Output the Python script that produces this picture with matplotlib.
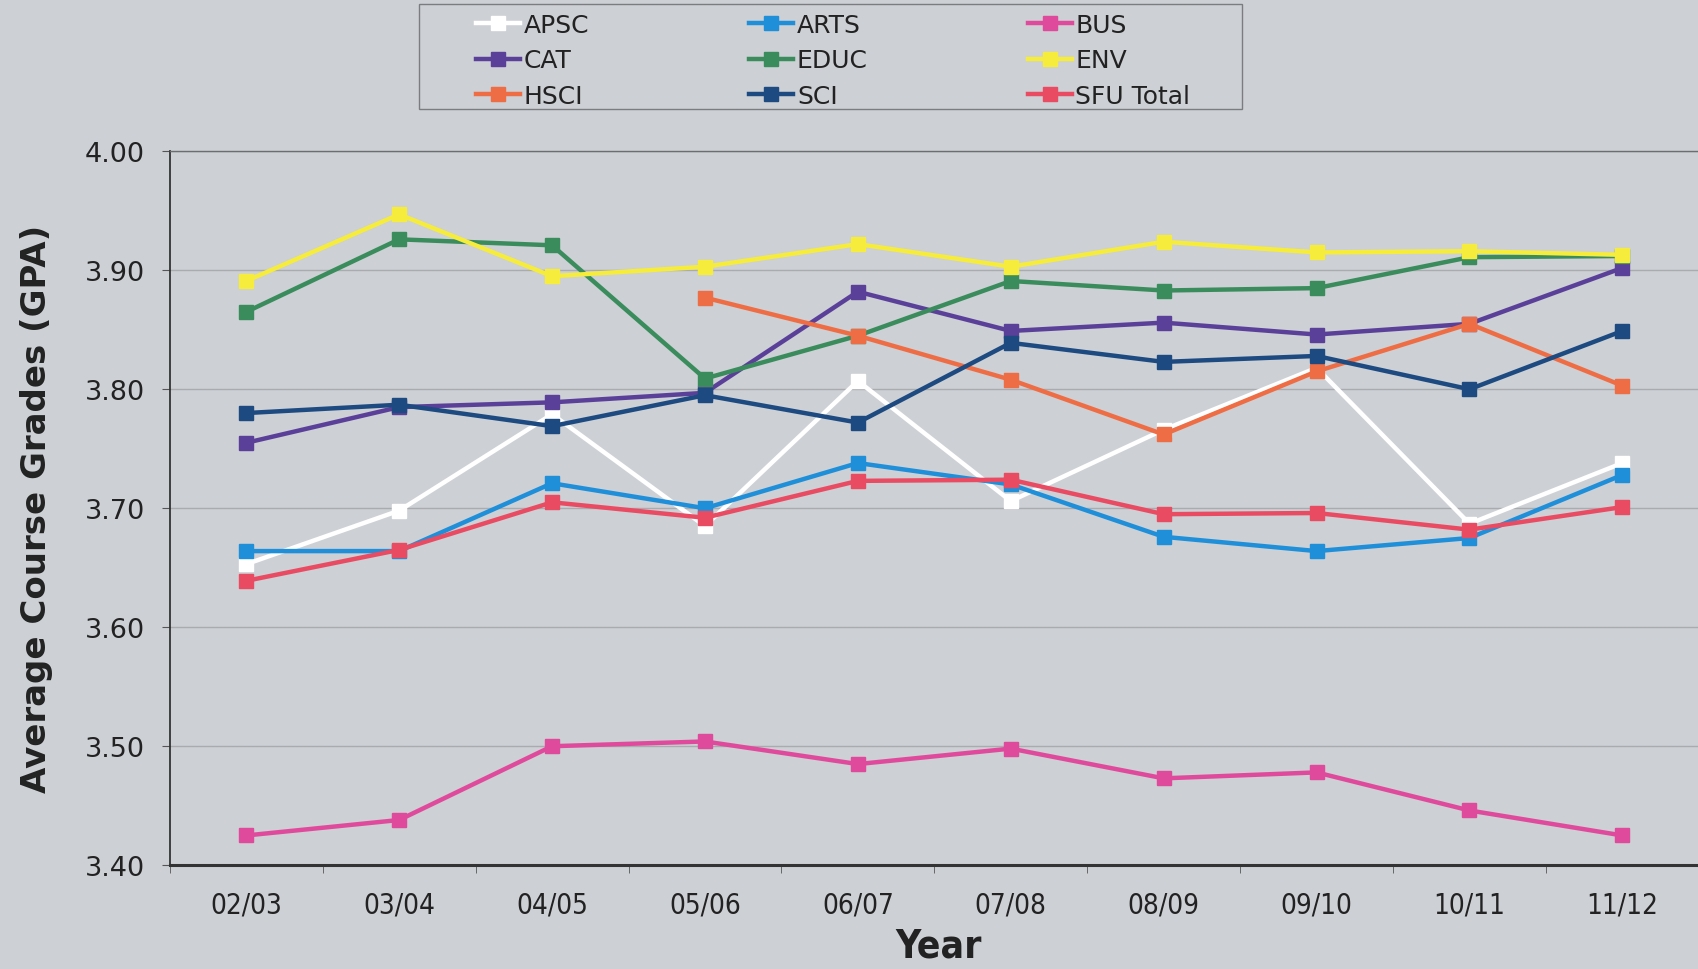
import matplotlib.pyplot as plt
from matplotlib.patches import Rectangle

years = ["02/03", "03/04", "04/05", "05/06", "06/07", "07/08", "08/09", "09/10", "10/11", "11/12"]

apsc = [3.653, 3.698, 3.779, 3.685, 3.807, 3.706, 3.766, 3.818, 3.687, 3.738]
arts = [3.664, 3.664, 3.721, 3.700, 3.738, 3.720, 3.676, 3.664, 3.675, 3.728]
bus = [3.425, 3.438, 3.500, 3.504, 3.485, 3.498, 3.473, 3.478, 3.446, 3.425]
cat = [3.755, 3.785, 3.789, 3.797, 3.882, 3.849, 3.856, 3.846, 3.855, 3.902]
educ = [3.865, 3.926, 3.921, 3.809, 3.845, 3.891, 3.883, 3.885, 3.911, 3.912]
env = [3.891, 3.947, 3.895, 3.903, 3.922, 3.903, 3.924, 3.915, 3.916, 3.913]
hsci = [None, None, None, 3.877, 3.845, 3.808, 3.762, 3.815, 3.855, 3.803]
sci = [3.780, 3.787, 3.769, 3.795, 3.772, 3.839, 3.823, 3.828, 3.800, 3.849]
sfu_total = [3.639, 3.665, 3.705, 3.692, 3.723, 3.724, 3.695, 3.696, 3.682, 3.701]

names = ["APSC", "ARTS", "BUS", "CAT", "EDUC", "ENV", "HSCI", "SCI", "SFU Total"]
series = [apsc, arts, bus, cat, educ, env, hsci, sci, sfu_total]
colors = ["#ffffff", "#1f8fd9", "#e04a9c", "#5b4099", "#3a8c5c", "#f6ec3c", "#ee6d45", "#1d4a80", "#e94b62"]

bg = "#cdd0d4"
fig = plt.figure(figsize=(16.98, 9.70), dpi=100, facecolor=bg)
ax = fig.add_axes([0.100, 0.107, 0.905, 0.736], facecolor=bg)

x = list(range(len(years)))
handles = {}
for name, vals, c in zip(names, series, colors):
    xs = [i for i, v in zip(x, vals) if v is not None]
    ys = [v for v in vals if v is not None]
    h, = ax.plot(xs, ys, color=c, lw=3.2, marker="s", ms=9.5, mec=c, mfc=c, zorder=3)
    handles[name] = h

ax.set_xlim(-0.48, 9.55)
ax.set_ylim(3.40, 4.00)
ax.set_yticks([3.40, 3.50, 3.60, 3.70, 3.80, 3.90, 4.00])
ax.set_yticklabels([f"{v:.2f}" for v in ax.get_yticks()], fontsize=19.5, color="#222222")
ax.set_xticks(x)
ax.set_xticklabels(years, fontsize=20, color="#222222", fontstretch="condensed")
ax.set_xticks([i + 0.5 for i in range(-1, 10)], minor=True)
ax.tick_params(axis="x", which="major", length=0, pad=18)
ax.tick_params(axis="x", which="minor", length=6, color="#555555", direction="out")
ax.tick_params(axis="y", length=6, color="#555555", pad=12)

ax.grid(axis="y", color="#a9abae", lw=1.0, zorder=0)
ax.spines["right"].set_visible(False)
ax.spines["top"].set_color("#6b6d70")
ax.spines["top"].set_linewidth(1.0)
ax.spines["left"].set_color("#333333")
ax.spines["left"].set_linewidth(1.3)
ax.spines["bottom"].set_color("#333333")
ax.spines["bottom"].set_linewidth(2.2)

ax.set_ylabel("Average Course Grades (GPA)", fontsize=24.5, fontweight="bold", color="#222222", labelpad=23)
ax.set_xlabel("Year", fontsize=28, fontweight="bold", color="#222222", labelpad=6, fontstretch="condensed")

# legend fills column-wise, so reorder to read row by row
order = ["APSC", "CAT", "HSCI", "ARTS", "EDUC", "SCI", "BUS", "ENV", "SFU Total"]
leg = fig.legend([handles[n] for n in order], order, loc="upper left",
                 bbox_to_anchor=(0.2806, 0.986), ncol=3, fontsize=18,
                 frameon=False, handlelength=1.75, handletextpad=0.15,
                 borderpad=0, borderaxespad=0, labelspacing=0.47,
                 columnspacing=6.4)
for t in leg.get_texts():
    t.set_color("#222222")

fig.add_artist(Rectangle((0.2468, 0.8862), 0.4847, 0.1083, transform=fig.transFigure,
                         facecolor="none", edgecolor="#7a7c7f", lw=1.0))

fig.savefig("out.png", dpi=100, facecolor=bg)
